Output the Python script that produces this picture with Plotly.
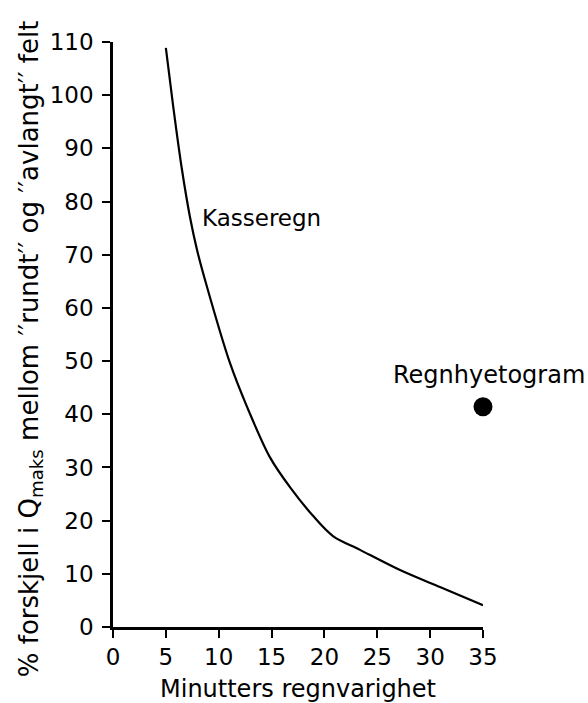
import plotly.graph_objects as go

# Kasseregn curve (minutes, % difference)
kasse_x = [5.0, 5.7, 6.5, 7.28, 7.95, 8.7, 11.07, 12.68, 14.85, 16.74, 18.92, 20.81, 23.37, 27.15, 30.93, 35.0]
kasse_y = [108.9, 97.8, 86.3, 77.1, 70.9, 65.3, 49.6, 41.4, 31.9, 26.3, 20.9, 17.1, 14.5, 10.7, 7.5, 4.1]

# Regnhyetogram point
hyet_x = [35.0]
hyet_y = [41.4]

x_ticks = [0, 5, 10, 15, 20, 25, 30, 35]
y_ticks = [0, 10, 20, 30, 40, 50, 60, 70, 80, 90, 100, 110]

FONT = "DejaVu Sans"

fig = go.Figure()
fig.add_trace(go.Scatter(x=kasse_x, y=kasse_y, mode="lines",
                         line=dict(color="black", width=2.2, shape="spline", smoothing=0.9),
                         showlegend=False, cliponaxis=False))
fig.add_trace(go.Scatter(x=hyet_x, y=hyet_y, mode="markers",
                         marker=dict(color="black", size=19),
                         showlegend=False, cliponaxis=False))

fig.add_annotation(x=8.2, y=77, text="Kasseregn", showarrow=False,
                   xanchor="left", yanchor="middle", font=dict(size=23, color="black", family=FONT))
fig.add_annotation(x=35, y=47.4, xshift=6, text="Regnhyetogram", showarrow=False,
                   xanchor="center", yanchor="middle", font=dict(size=24, color="black", family=FONT))
# y-axis title
fig.add_annotation(xref="paper", yref="paper", x=-0.224, y=0.475, textangle=-90,
                   text="% forskjell i Q<sub>maks</sub> mellom ′′rundt′′ og ′′avlangt′′ felt",
                   showarrow=False, xanchor="center", yanchor="middle",
                   font=dict(size=26, color="black", family=FONT))

fig.update_layout(
    width=588, height=703,
    margin=dict(l=113, r=105, t=42, b=76),
    paper_bgcolor="white", plot_bgcolor="white",
    font=dict(family=FONT, color="black", size=22),
)
fig.update_xaxes(range=[0, 35], tickvals=x_ticks, showgrid=False, zeroline=False, automargin=False,
                 showline=True, linecolor="black", linewidth=2.5,
                 ticks="outside", ticklen=8, tickwidth=2, tickcolor="black",
                 tickfont=dict(size=23),
                 title=dict(text="Minutters regnvarighet", font=dict(size=24), standoff=11))
fig.update_yaxes(range=[0, 110], tickvals=y_ticks, showgrid=False, zeroline=False, automargin=False,
                 showline=True, linecolor="black", linewidth=2.5,
                 ticks="outside", ticklen=8, tickwidth=2, tickcolor="black",
                 tickfont=dict(size=23), ticklabelstandoff=4)

fig.write_html("out.html", config={"displayModeBar": False},
               post_script="document.body.style.margin='0';")
